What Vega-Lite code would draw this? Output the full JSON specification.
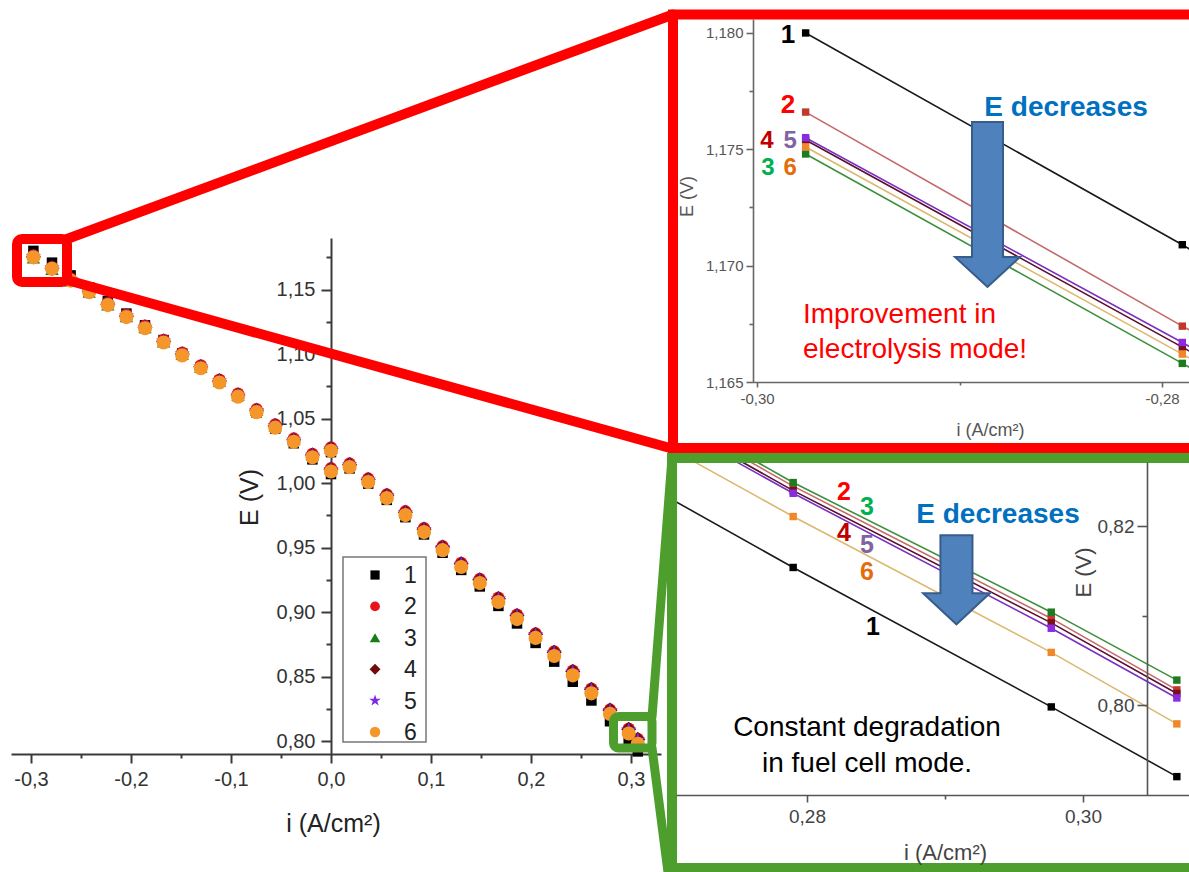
{
"$schema": "https://vega.github.io/schema/vega-lite/v6.json",
"width": 1189, "height": 872, "autosize": {"type": "none"}, "padding": 0, "background": "#ffffff",
"config": {"view": {"stroke": null}, "font": "Liberation Sans"},
"datasets": {"d": [
{"s":"1","i":-0.2976,"E":1.1800},{"s":"1","i":-0.279,"E":1.1709},{"s":"1","i":-0.2604,"E":1.1610},{"s":"1","i":-0.2418,"E":1.1516},{"s":"1","i":-0.2232,"E":1.1412},{"s":"1","i":-0.2046,"E":1.1314},{"s":"1","i":-0.186,"E":1.1223},{"s":"1","i":-0.1674,"E":1.1109},{"s":"1","i":-0.1488,"E":1.1005},{"s":"1","i":-0.1302,"E":1.0900},{"s":"1","i":-0.1116,"E":1.0786},{"s":"1","i":-0.093,"E":1.0672},{"s":"1","i":-0.0744,"E":1.0547},{"s":"1","i":-0.0558,"E":1.0423},{"s":"1","i":-0.0372,"E":1.0309},{"s":"1","i":-0.0186,"E":1.0184},{"s":"1","i":0,"E":1.0070},{"s":"1","i":0,"E":1.0240},{"s":"1","i":0.0186,"E":1.0114},{"s":"1","i":0.0372,"E":0.9996},{"s":"1","i":0.0558,"E":0.9870},{"s":"1","i":0.0744,"E":0.9736},{"s":"1","i":0.093,"E":0.9602},{"s":"1","i":0.1116,"E":0.9460},{"s":"1","i":0.1302,"E":0.9327},{"s":"1","i":0.1488,"E":0.9199},{"s":"1","i":0.1674,"E":0.9048},{"s":"1","i":0.186,"E":0.8912},{"s":"1","i":0.2046,"E":0.8761},{"s":"1","i":0.2232,"E":0.8616},{"s":"1","i":0.2418,"E":0.8460},{"s":"1","i":0.2604,"E":0.8315},{"s":"1","i":0.279,"E":0.8154},{"s":"1","i":0.2977,"E":0.7998},{"s":"1","i":0.3068,"E":0.7920},
{"s":"2","i":-0.2976,"E":1.1766},{"s":"2","i":-0.279,"E":1.1674},{"s":"2","i":-0.2604,"E":1.1587},{"s":"2","i":-0.2418,"E":1.1498},{"s":"2","i":-0.2232,"E":1.1398},{"s":"2","i":-0.2046,"E":1.1306},{"s":"2","i":-0.186,"E":1.1220},{"s":"2","i":-0.1674,"E":1.1110},{"s":"2","i":-0.1488,"E":1.1011},{"s":"2","i":-0.1302,"E":1.0912},{"s":"2","i":-0.1116,"E":1.0803},{"s":"2","i":-0.093,"E":1.0693},{"s":"2","i":-0.0744,"E":1.0574},{"s":"2","i":-0.0558,"E":1.0455},{"s":"2","i":-0.0372,"E":1.0346},{"s":"2","i":-0.0186,"E":1.0226},{"s":"2","i":0,"E":1.0117},{"s":"2","i":0,"E":1.0277},{"s":"2","i":0.0186,"E":1.0152},{"s":"2","i":0.0372,"E":1.0036},{"s":"2","i":0.0558,"E":0.9913},{"s":"2","i":0.0744,"E":0.9782},{"s":"2","i":0.093,"E":0.9651},{"s":"2","i":0.1116,"E":0.9511},{"s":"2","i":0.1302,"E":0.9382},{"s":"2","i":0.1488,"E":0.9258},{"s":"2","i":0.1674,"E":0.9112},{"s":"2","i":0.186,"E":0.8980},{"s":"2","i":0.2046,"E":0.8835},{"s":"2","i":0.2232,"E":0.8696},{"s":"2","i":0.2418,"E":0.8546},{"s":"2","i":0.2604,"E":0.8407},{"s":"2","i":0.279,"E":0.8245},{"s":"2","i":0.2977,"E":0.8097},{"s":"2","i":0.3068,"E":0.8017},
{"s":"3","i":-0.2976,"E":1.1748},{"s":"3","i":-0.279,"E":1.1658},{"s":"3","i":-0.2604,"E":1.1570},{"s":"3","i":-0.2418,"E":1.1481},{"s":"3","i":-0.2232,"E":1.1383},{"s":"3","i":-0.2046,"E":1.1291},{"s":"3","i":-0.186,"E":1.1206},{"s":"3","i":-0.1674,"E":1.1097},{"s":"3","i":-0.1488,"E":1.0999},{"s":"3","i":-0.1302,"E":1.0900},{"s":"3","i":-0.1116,"E":1.0792},{"s":"3","i":-0.093,"E":1.0683},{"s":"3","i":-0.0744,"E":1.0565},{"s":"3","i":-0.0558,"E":1.0446},{"s":"3","i":-0.0372,"E":1.0338},{"s":"3","i":-0.0186,"E":1.0219},{"s":"3","i":0,"E":1.0111},{"s":"3","i":0,"E":1.0271},{"s":"3","i":0.0186,"E":1.0147},{"s":"3","i":0.0372,"E":1.0032},{"s":"3","i":0.0558,"E":0.9910},{"s":"3","i":0.0744,"E":0.9779},{"s":"3","i":0.093,"E":0.9649},{"s":"3","i":0.1116,"E":0.9510},{"s":"3","i":0.1302,"E":0.9382},{"s":"3","i":0.1488,"E":0.9258},{"s":"3","i":0.1674,"E":0.9113},{"s":"3","i":0.186,"E":0.8982},{"s":"3","i":0.2046,"E":0.8838},{"s":"3","i":0.2232,"E":0.8699},{"s":"3","i":0.2418,"E":0.8551},{"s":"3","i":0.2604,"E":0.8412},{"s":"3","i":0.279,"E":0.8249},{"s":"3","i":0.2977,"E":0.8104},{"s":"3","i":0.3068,"E":0.8028},
{"s":"4","i":-0.2976,"E":1.1754},{"s":"4","i":-0.279,"E":1.1665},{"s":"4","i":-0.2604,"E":1.1575},{"s":"4","i":-0.2418,"E":1.1486},{"s":"4","i":-0.2232,"E":1.1387},{"s":"4","i":-0.2046,"E":1.1295},{"s":"4","i":-0.186,"E":1.1209},{"s":"4","i":-0.1674,"E":1.1100},{"s":"4","i":-0.1488,"E":1.1001},{"s":"4","i":-0.1302,"E":1.0901},{"s":"4","i":-0.1116,"E":1.0792},{"s":"4","i":-0.093,"E":1.0683},{"s":"4","i":-0.0744,"E":1.0564},{"s":"4","i":-0.0558,"E":1.0445},{"s":"4","i":-0.0372,"E":1.0336},{"s":"4","i":-0.0186,"E":1.0217},{"s":"4","i":0,"E":1.0108},{"s":"4","i":0,"E":1.0268},{"s":"4","i":0.0186,"E":1.0143},{"s":"4","i":0.0372,"E":1.0028},{"s":"4","i":0.0558,"E":0.9905},{"s":"4","i":0.0744,"E":0.9774},{"s":"4","i":0.093,"E":0.9643},{"s":"4","i":0.1116,"E":0.9504},{"s":"4","i":0.1302,"E":0.9375},{"s":"4","i":0.1488,"E":0.9250},{"s":"4","i":0.1674,"E":0.9104},{"s":"4","i":0.186,"E":0.8973},{"s":"4","i":0.2046,"E":0.8828},{"s":"4","i":0.2232,"E":0.8689},{"s":"4","i":0.2418,"E":0.8540},{"s":"4","i":0.2604,"E":0.8401},{"s":"4","i":0.279,"E":0.8240},{"s":"4","i":0.2977,"E":0.8092},{"s":"4","i":0.3068,"E":0.8013},
{"s":"5","i":-0.2976,"E":1.1755},{"s":"5","i":-0.279,"E":1.1667},{"s":"5","i":-0.2604,"E":1.1576},{"s":"5","i":-0.2418,"E":1.1487},{"s":"5","i":-0.2232,"E":1.1387},{"s":"5","i":-0.2046,"E":1.1295},{"s":"5","i":-0.186,"E":1.1209},{"s":"5","i":-0.1674,"E":1.1099},{"s":"5","i":-0.1488,"E":1.1000},{"s":"5","i":-0.1302,"E":1.0901},{"s":"5","i":-0.1116,"E":1.0792},{"s":"5","i":-0.093,"E":1.0682},{"s":"5","i":-0.0744,"E":1.0563},{"s":"5","i":-0.0558,"E":1.0444},{"s":"5","i":-0.0372,"E":1.0335},{"s":"5","i":-0.0186,"E":1.0215},{"s":"5","i":0,"E":1.0106},{"s":"5","i":0,"E":1.0266},{"s":"5","i":0.0186,"E":1.0141},{"s":"5","i":0.0372,"E":1.0025},{"s":"5","i":0.0558,"E":0.9902},{"s":"5","i":0.0744,"E":0.9771},{"s":"5","i":0.093,"E":0.9640},{"s":"5","i":0.1116,"E":0.9500},{"s":"5","i":0.1302,"E":0.9371},{"s":"5","i":0.1488,"E":0.9247},{"s":"5","i":0.1674,"E":0.9101},{"s":"5","i":0.186,"E":0.8969},{"s":"5","i":0.2046,"E":0.8824},{"s":"5","i":0.2232,"E":0.8685},{"s":"5","i":0.2418,"E":0.8535},{"s":"5","i":0.2604,"E":0.8396},{"s":"5","i":0.279,"E":0.8237},{"s":"5","i":0.2977,"E":0.8086},{"s":"5","i":0.3068,"E":0.8008},
{"s":"6","i":-0.2976,"E":1.1751},{"s":"6","i":-0.279,"E":1.1662},{"s":"6","i":-0.2604,"E":1.1570},{"s":"6","i":-0.2418,"E":1.1480},{"s":"6","i":-0.2232,"E":1.1380},{"s":"6","i":-0.2046,"E":1.1287},{"s":"6","i":-0.186,"E":1.1200},{"s":"6","i":-0.1674,"E":1.1090},{"s":"6","i":-0.1488,"E":1.0990},{"s":"6","i":-0.1302,"E":1.0890},{"s":"6","i":-0.1116,"E":1.0780},{"s":"6","i":-0.093,"E":1.0670},{"s":"6","i":-0.0744,"E":1.0550},{"s":"6","i":-0.0558,"E":1.0430},{"s":"6","i":-0.0372,"E":1.0320},{"s":"6","i":-0.0186,"E":1.0200},{"s":"6","i":0,"E":1.0090},{"s":"6","i":0,"E":1.0250},{"s":"6","i":0.0186,"E":1.0124},{"s":"6","i":0.0372,"E":1.0008},{"s":"6","i":0.0558,"E":0.9884},{"s":"6","i":0.0744,"E":0.9752},{"s":"6","i":0.093,"E":0.9620},{"s":"6","i":0.1116,"E":0.9480},{"s":"6","i":0.1302,"E":0.9350},{"s":"6","i":0.1488,"E":0.9225},{"s":"6","i":0.1674,"E":0.9078},{"s":"6","i":0.186,"E":0.8946},{"s":"6","i":0.2046,"E":0.8800},{"s":"6","i":0.2232,"E":0.8660},{"s":"6","i":0.2418,"E":0.8510},{"s":"6","i":0.2604,"E":0.8370},{"s":"6","i":0.279,"E":0.8211},{"s":"6","i":0.2977,"E":0.8059},{"s":"6","i":0.3068,"E":0.7979}
]},
"resolve": {"scale": {"x": "independent", "y": "independent", "size": "independent"}},
"layer": [
{
"layer": [
{"data": {"name": "d"}, "transform": [{"filter": "datum.i >= 0.26"}],
 "mark": {"type": "line", "strokeWidth": 1.6},
 "encoding": {
  "x": {"field": "i", "type": "quantitative", "scale": {"domain": [0.27051, 0.30768], "range": [676, 1189], "nice": false, "zero": false},
   "axis": {"orient": "bottom", "offset": -77, "values": [0.28, 0.29, 0.30],
    "labelExpr": "abs(datum.value*50-round(datum.value*50))>0.1 ? '' : replace(format(datum.value,'.2f'),'.',',')",
    "tickSize": {"condition": {"test": "abs(datum.value*50-round(datum.value*50))>0.1", "value": 4}, "value": 7},
    "labelPadding": 5, "labelFontSize": 19, "labelColor": "#444444", "labelFlush": false, "labelOverlap": false,
    "domainColor": "#555555", "domainWidth": 1.6, "tickColor": "#555555", "tickWidth": 1.6, "grid": false,
    "title": "i (A/cm²)", "titleX": 945, "titleY": 57, "titleAlign": "center", "titleBaseline": "middle", "titleFontSize": 22, "titleFontWeight": "normal", "titleColor": "#444444", "zindex": 1}},
  "y": {"field": "E", "type": "quantitative", "scale": {"domain": [0.79, 0.8272], "range": [794.5, 462], "nice": false, "zero": false},
   "axis": {"orient": "left", "offset": -1147, "values": [0.80, 0.81, 0.82],
    "labelExpr": "abs(datum.value*50-round(datum.value*50))>0.1 ? '' : replace(format(datum.value,'.2f'),'.',',')",
    "tickSize": {"condition": {"test": "abs(datum.value*50-round(datum.value*50))>0.1", "value": 5}, "value": 10},
    "labelPadding": 3, "labelFontSize": 19, "labelColor": "#444444", "labelOverlap": false, "labelFlush": false,
    "domainColor": "#555555", "domainWidth": 1.6, "tickColor": "#555555", "tickWidth": 1.6, "grid": false,
    "title": "E (V)", "titleX": -64, "titleY": 572, "titleAngle": 270, "titleAlign": "center", "titleBaseline": "middle", "titleFontSize": 22, "titleFontWeight": "normal", "titleColor": "#444444", "zindex": 1}},
  "stroke": {"field": "s", "type": "nominal", "scale": {"domain": ["1","2","3","4","5","6"], "range": ["#1a1a1a","#c46a6a","#3d8f3d","#5a1030","#7a30c0","#dcb870"]}, "legend": null}
 }},
{"data": {"name": "d"}, "transform": [{"filter": "datum.i >= 0.26"}],
 "mark": {"type": "point", "shape": "square", "filled": true, "size": 55, "opacity": 1},
 "encoding": {
  "x": {"field": "i", "type": "quantitative"},
  "y": {"field": "E", "type": "quantitative"},
  "fill": {"field": "s", "type": "nominal", "scale": {"domain": ["1","2","3","4","5","6"], "range": ["#000000","#c0392b","#1e7b1e","#7a0f1f","#8a2be2","#f0882a"]}, "legend": null}
 }},
{"data": {"values": [{}]}, "mark": {"type": "rect", "fill": "#ffffff"},
 "encoding": {"x": {"datum": 0.25884}, "x2": {"datum": 0.26993}, "y": {"datum": 0.84302}, "y2": {"datum": 0.82067}}},
{"data": {"values": [{}]}, "mark": {"type": "rect", "fill": "#ffffff"},
 "encoding": {"x": {"datum": 0.26993}, "x2": {"datum": 0.27949}, "y": {"datum": 0.84302}, "y2": {"datum": 0.8276}}},
{"data": {"values": [{}]}, "mark": {"type": "text", "text": "2", "fontSize": 25, "fontWeight": "bold", "color": "#ff0000", "align": "center", "baseline": "middle"},
 "encoding": {"x": {"datum": 0.28268}, "y": {"datum": 0.8238}}},
{"data": {"values": [{}]}, "mark": {"type": "text", "text": "3", "fontSize": 25, "fontWeight": "bold", "color": "#00b050", "align": "center", "baseline": "middle"},
 "encoding": {"x": {"datum": 0.28435}, "y": {"datum": 0.82212}}},
{"data": {"values": [{}]}, "mark": {"type": "text", "text": "4", "fontSize": 25, "fontWeight": "bold", "color": "#c00000", "align": "center", "baseline": "middle"},
 "encoding": {"x": {"datum": 0.28268}, "y": {"datum": 0.81922}}},
{"data": {"values": [{}]}, "mark": {"type": "text", "text": "5", "fontSize": 25, "fontWeight": "bold", "color": "#8064a2", "align": "center", "baseline": "middle"},
 "encoding": {"x": {"datum": 0.28435}, "y": {"datum": 0.81788}}},
{"data": {"values": [{}]}, "mark": {"type": "text", "text": "6", "fontSize": 25, "fontWeight": "bold", "color": "#e46c0a", "align": "center", "baseline": "middle"},
 "encoding": {"x": {"datum": 0.28435}, "y": {"datum": 0.81486}}},
{"data": {"values": [{}]}, "mark": {"type": "text", "text": "1", "fontSize": 25, "fontWeight": "bold", "color": "#000000", "align": "center", "baseline": "middle"},
 "encoding": {"x": {"datum": 0.28478}, "y": {"datum": 0.80872}}},
{"data": {"values": [{}]}, "mark": {"type": "text", "text": "E decreases", "fontSize": 28, "fontWeight": "bold", "color": "#0070c0", "align": "center", "baseline": "middle"},
 "encoding": {"x": {"datum": 0.29384}, "y": {"datum": 0.82123}}},
{"data": {"values": [{}]}, "mark": {"type": "text", "text": "Constant degradation", "fontSize": 28, "color": "#000000", "align": "center", "baseline": "middle"},
 "encoding": {"x": {"datum": 0.28435}, "y": {"datum": 0.79743}}},
{"data": {"values": [{}]}, "mark": {"type": "text", "text": "in fuel cell mode.", "fontSize": 28, "color": "#000000", "align": "center", "baseline": "middle"},
 "encoding": {"x": {"datum": 0.28435}, "y": {"datum": 0.79341}}},
{"data": {"values": [{}]}, "mark": {"type": "point", "shape": "M-0.36,-1L0.36,-1L0.36,0.3L0.75,0.3L0,1L-0.75,0.3L-0.36,0.3Z", "size": 7921, "filled": true, "fill": "#4f81bd", "stroke": "#385d8a", "strokeWidth": 2, "opacity": 1},
 "encoding": {"x": {"datum": 0.29083}, "y": {"datum": 0.81402}}}
]
},
{
"layer": [
{"data": {"name": "d"}, "transform": [{"filter": "datum.i <= -0.26"}],
 "mark": {"type": "line", "strokeWidth": 1.6},
 "encoding": {
  "x": {"field": "i", "type": "quantitative", "scale": {"domain": [-0.3002, -0.2786], "range": [753, 1190.4], "nice": false, "zero": false},
   "axis": {"orient": "bottom", "offset": -490, "values": [-0.30, -0.29, -0.28],
    "labelExpr": "abs(datum.value*50-round(datum.value*50))>0.1 ? '' : replace(replace(format(datum.value,'.2f'),'.',','),'−','-')",
    "tickSize": {"condition": {"test": "abs(datum.value*50-round(datum.value*50))>0.1", "value": 3}, "value": 5},
    "labelPadding": 4, "labelFontSize": 15, "labelColor": "#555555", "labelFlush": false, "labelOverlap": false,
    "domainColor": "#666666", "domainWidth": 1.6, "tickColor": "#666666", "tickWidth": 1.6, "grid": false,
    "title": "i (A/cm²)", "titleX": 990, "titleY": 48, "titleAlign": "center", "titleBaseline": "middle", "titleFontSize": 18, "titleFontWeight": "normal", "titleColor": "#555555", "zindex": 1}},
  "y": {"field": "E", "type": "quantitative", "scale": {"domain": [1.165, 1.1806], "range": [382, 19], "nice": false, "zero": false},
   "axis": {"orient": "left", "offset": -753, "values": [1.165, 1.1675, 1.17, 1.1725, 1.175, 1.1775, 1.18],
    "labelExpr": "abs(datum.value*200-round(datum.value*200))>0.1 ? '' : replace(format(datum.value,'.3f'),'.',',')",
    "tickSize": {"condition": {"test": "abs(datum.value*200-round(datum.value*200))>0.1", "value": 4}, "value": 7},
    "labelPadding": 3, "labelFontSize": 15, "labelColor": "#555555", "labelOverlap": false, "labelFlush": false,
    "domainColor": "#666666", "domainWidth": 1.6, "tickColor": "#666666", "tickWidth": 1.6, "grid": false,
    "title": "E (V)", "titleX": -66, "titleY": 196, "titleAngle": 270, "titleAlign": "center", "titleBaseline": "middle", "titleFontSize": 18, "titleFontWeight": "normal", "titleColor": "#555555", "zindex": 1}},
  "stroke": {"field": "s", "type": "nominal", "scale": {"domain": ["1","2","3","4","5","6"], "range": ["#1a1a1a","#c46a6a","#3d8f3d","#5a1030","#7a30c0","#dcb870"]}, "legend": null}
 }},
{"data": {"name": "d"}, "transform": [{"filter": "datum.i <= -0.26"}],
 "mark": {"type": "point", "shape": "square", "filled": true, "size": 55, "opacity": 1},
 "encoding": {
  "x": {"field": "i", "type": "quantitative"},
  "y": {"field": "E", "type": "quantitative"},
  "fill": {"field": "s", "type": "nominal", "scale": {"domain": ["1","2","3","4","5","6"], "range": ["#000000","#c0392b","#1e7b1e","#7a0f1f","#8a2be2","#f0882a"]}, "legend": null}
 }},
{"data": {"values": [{}]}, "mark": {"type": "text", "text": "1", "fontSize": 26, "fontWeight": "bold", "color": "#000000", "align": "center", "baseline": "middle"},
 "encoding": {"x": {"datum": -0.29847}, "y": {"datum": 1.17991}}},
{"data": {"values": [{}]}, "mark": {"type": "text", "text": "2", "fontSize": 26, "fontWeight": "bold", "color": "#ff0000", "align": "center", "baseline": "middle"},
 "encoding": {"x": {"datum": -0.29847}, "y": {"datum": 1.17691}}},
{"data": {"values": [{}]}, "mark": {"type": "text", "text": "4", "fontSize": 24, "fontWeight": "bold", "color": "#c00000", "align": "center", "baseline": "middle"},
 "encoding": {"x": {"datum": -0.29951}, "y": {"datum": 1.17535}}},
{"data": {"values": [{}]}, "mark": {"type": "text", "text": "5", "fontSize": 24, "fontWeight": "bold", "color": "#8064a2", "align": "center", "baseline": "middle"},
 "encoding": {"x": {"datum": -0.29837}, "y": {"datum": 1.17535}}},
{"data": {"values": [{}]}, "mark": {"type": "text", "text": "3", "fontSize": 24, "fontWeight": "bold", "color": "#00b050", "align": "center", "baseline": "middle"},
 "encoding": {"x": {"datum": -0.29946}, "y": {"datum": 1.1742}}},
{"data": {"values": [{}]}, "mark": {"type": "text", "text": "6", "fontSize": 24, "fontWeight": "bold", "color": "#e46c0a", "align": "center", "baseline": "middle"},
 "encoding": {"x": {"datum": -0.29837}, "y": {"datum": 1.1742}}},
{"data": {"values": [{}]}, "mark": {"type": "text", "text": "E decreases", "fontSize": 28, "fontWeight": "bold", "color": "#0070c0", "align": "center", "baseline": "middle"},
 "encoding": {"x": {"datum": -0.28474}, "y": {"datum": 1.17678}}},
{"data": {"values": [{}]}, "mark": {"type": "text", "text": "Improvement in", "fontSize": 28, "color": "#ff0000", "align": "left", "baseline": "middle"},
 "encoding": {"x": {"datum": -0.29773}, "y": {"datum": 1.16788}}},
{"data": {"values": [{}]}, "mark": {"type": "text", "text": "electrolysis mode!", "fontSize": 28, "color": "#ff0000", "align": "left", "baseline": "middle"},
 "encoding": {"x": {"datum": -0.29773}, "y": {"datum": 1.16638}}},
{"data": {"values": [{}]}, "mark": {"type": "point", "shape": "M-0.188,-1L0.188,-1L0.188,0.636L0.394,0.636L0,1L-0.394,0.636L-0.188,0.636Z", "size": 27225, "filled": true, "fill": "#4f81bd", "stroke": "#385d8a", "strokeWidth": 2, "opacity": 1},
 "encoding": {"x": {"datum": -0.28862}, "y": {"datum": 1.17263}}}
]
},
{
"layer": [
{"data": {"name": "d"},
 "mark": {"type": "point", "filled": true, "opacity": 1},
 "encoding": {
  "x": {"field": "i", "type": "quantitative", "scale": {"domain": [-0.32, 0.33], "range": [11, 661], "nice": false, "zero": false},
   "axis": {"orient": "bottom", "offset": -118, "values": [-0.3, -0.25, -0.2, -0.15, -0.1, -0.05, 0, 0.05, 0.1, 0.15, 0.2, 0.25, 0.3],
    "labelExpr": "abs(datum.value*10-round(datum.value*10))>0.1 ? '' : replace(replace(format(datum.value,'.1f'),'.',','),'−','-')",
    "tickSize": {"condition": {"test": "abs(datum.value*10-round(datum.value*10))>0.1", "value": 4}, "value": 9},
    "labelPadding": 6, "labelFontSize": 20, "labelColor": "#333333", "labelFlush": false, "labelOverlap": false,
    "domainColor": "#3a3a3a", "domainWidth": 2, "tickColor": "#3a3a3a", "tickWidth": 2, "grid": false,
    "title": "i (A/cm²)", "titleX": 333, "titleY": 69, "titleAlign": "center", "titleBaseline": "middle", "titleFontSize": 25, "titleFontWeight": "normal", "titleColor": "#222222", "zindex": 0}},
  "y": {"field": "E", "type": "quantitative", "scale": {"domain": [0.79, 1.19], "range": [754, 238], "nice": false, "zero": false},
   "axis": {"orient": "left", "offset": -331, "values": [0.8, 0.825, 0.85, 0.875, 0.9, 0.925, 0.95, 0.975, 1.0, 1.025, 1.05, 1.075, 1.1, 1.125, 1.15, 1.175],
    "labelExpr": "abs(datum.value*20-round(datum.value*20))>0.1 ? '' : replace(format(datum.value,'.2f'),'.',',')",
    "tickSize": {"condition": {"test": "abs(datum.value*20-round(datum.value*20))>0.1", "value": 5}, "value": 10},
    "labelPadding": 6, "labelFontSize": 20, "labelColor": "#333333", "labelOverlap": false, "labelFlush": false,
    "domainColor": "#3a3a3a", "domainWidth": 2, "tickColor": "#3a3a3a", "tickWidth": 2, "grid": false,
    "title": "E (V)", "titleX": -82, "titleY": 497, "titleAngle": 270, "titleAlign": "center", "titleBaseline": "middle", "titleFontSize": 25, "titleFontWeight": "normal", "titleColor": "#222222", "zindex": 0}},
  "color": {"field": "s", "type": "nominal", "scale": {"domain": ["1","2","3","4","5","6"], "range": ["#000000","#e8141c","#177d17","#6e0b0b","#7a2be0","#f5962a"]}, "legend": null},
  "shape": {"field": "s", "type": "nominal", "scale": {"domain": ["1","2","3","4","5","6"], "range": ["square","circle","triangle-up","diamond","M0,-1L0.225,-0.309L0.951,-0.309L0.363,0.118L0.588,0.809L0,0.382L-0.588,0.809L-0.363,0.118L-0.951,-0.309L-0.225,-0.309Z","circle"]}, "legend": null},
  "size": {"field": "s", "type": "nominal", "scale": {"type": "ordinal", "domain": ["1","2","3","4","5","6"], "range": [110, 150, 180, 230, 260, 200]}, "legend": null}
 }},
{"data": {"values": [{}]}, "mark": {"type": "rect", "filled": false, "stroke": "#ff0000", "strokeWidth": 10, "cornerRadius": 5},
 "encoding": {"x": {"datum": -0.314}, "x2": {"datum": -0.264}, "y": {"datum": 1.1892}, "y2": {"datum": 1.1559}}},
{"data": {"values": [{}]}, "mark": {"type": "rule", "stroke": "#ff0000", "strokeWidth": 10, "strokeCap": "round"},
 "encoding": {"x": {"datum": -0.264}, "y": {"datum": 1.1892}, "x2": {"datum": 0.342}, "y2": {"datum": 1.3633}}},
{"data": {"values": [{}]}, "mark": {"type": "rule", "stroke": "#ff0000", "strokeWidth": 10, "strokeCap": "round"},
 "encoding": {"x": {"datum": -0.264}, "y": {"datum": 1.1574}, "x2": {"datum": 0.339}, "y2": {"datum": 1.0272}}},
{"data": {"values": [{}]}, "mark": {"type": "rect", "filled": false, "stroke": "#4e9e2e", "strokeWidth": 9, "cornerRadius": 5},
 "encoding": {"x": {"datum": 0.2825}, "x2": {"datum": 0.321}, "y": {"datum": 0.8191}, "y2": {"datum": 0.7947}}},
{"data": {"values": [{}]}, "mark": {"type": "rule", "stroke": "#4e9e2e", "strokeWidth": 9, "strokeCap": "round"},
 "encoding": {"x": {"datum": 0.321}, "y": {"datum": 0.8187}, "x2": {"datum": 0.341}, "y2": {"datum": 1.0195}}},
{"data": {"values": [{}]}, "mark": {"type": "rule", "stroke": "#4e9e2e", "strokeWidth": 9, "strokeCap": "round"},
 "encoding": {"x": {"datum": 0.321}, "y": {"datum": 0.7947}, "x2": {"datum": 0.337}, "y2": {"datum": 0.6985}}},
{"data": {"values": [{}]}, "mark": {"type": "rect", "filled": false, "stroke": "#4e9e2e", "strokeWidth": 10},
 "encoding": {"x": {"datum": 0.341}, "x2": {"datum": 0.9}, "y": {"datum": 1.0195}, "y2": {"datum": 0.7016}}},
{"data": {"values": [{}]}, "mark": {"type": "rect", "filled": false, "stroke": "#ff0000", "strokeWidth": 10},
 "encoding": {"x": {"datum": 0.342}, "x2": {"datum": 0.9}, "y": {"datum": 1.3633}, "y2": {"datum": 1.0272}}}
]
},
{"data": {"values": [{}]}, "mark": {"type": "rect", "fill": "#ffffff", "stroke": "#777777", "strokeWidth": 1.5},
 "encoding": {"x": {"datum": 0, "scale": {"domain": [0, 1], "range": [343, 426], "nice": false, "zero": false}, "axis": null}, "x2": {"datum": 1},
  "y": {"datum": 0, "scale": {"domain": [0, 1], "range": [557, 742], "nice": false, "zero": false}, "axis": null}, "y2": {"datum": 1}}},
{
"data": {"values": [{"s": "1"}, {"s": "2"}, {"s": "3"}, {"s": "4"}, {"s": "5"}, {"s": "6"}]},
"layer": [
{"mark": {"type": "point", "filled": true, "opacity": 1},
 "encoding": {
  "x": {"datum": 0.386, "scale": {"domain": [0, 1], "range": [343, 426], "nice": false, "zero": false}, "axis": null},
  "y": {"field": "s", "type": "ordinal", "scale": {"type": "point", "domain": ["1","2","3","4","5","6"], "range": [575, 732], "padding": 0}, "axis": null},
  "color": {"field": "s", "type": "nominal", "legend": null},
  "shape": {"field": "s", "type": "nominal", "legend": null},
  "size": {"field": "s", "type": "nominal", "scale": {"type": "ordinal", "domain": ["1","2","3","4","5","6"], "range": [85, 95, 110, 120, 150, 110]}, "legend": null}
 }},
{"mark": {"type": "text", "fontSize": 23, "align": "left", "baseline": "middle", "color": "#222222", "dy": 1},
 "encoding": {
  "x": {"datum": 0.735, "axis": null},
  "y": {"field": "s", "type": "ordinal", "axis": null},
  "text": {"field": "s"}
 }}
]
}
]
}
